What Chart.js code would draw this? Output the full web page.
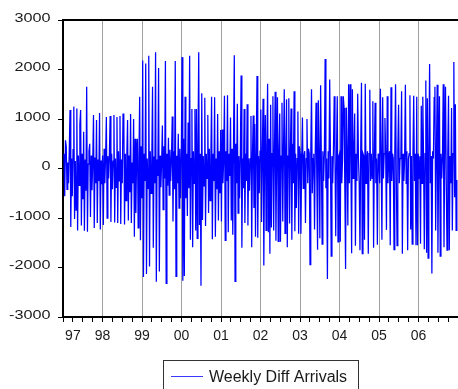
<!DOCTYPE html>
<html>
<head>
<meta charset="utf-8">
<script src="https://cdn.jsdelivr.net/npm/chart.js@4"></script>
<style>
  body { margin: 0; background: #fff; }
  canvas { display: block; }
</style>
</head>
<body>
<canvas id="chartArrivals" width="458" height="389"></canvas>
<script>
// weekly differences of arrivals, one array per year (52 weeks each)
const arrivals1997 = [300, -560, 570, 450, -420, 120, -300, 360, 1180, -1180, 200, -560, 380,
  1250, -1020, 150, -840, 1210, -1250, 260, -340, 900, 1180, -1150, 300, -620,
  740, -1260, 180, -450, 1650, -1280, 90, 350, 500, -980, 260, -440, 120,
  1080, -1200, 220, -300, 980, -1100, 180, -250, 1120, -1230, 160, -320, 260];
const arrivals1998 = [-1140, 400, -300, 250, 1040, -1000, 250, -200, 300, 1060, -1080, 300, -420,
  150, 1080, -1090, 200, -380, 1040, -1100, 350, -250, 1060, -1120, 180, -300,
  1100, 1110, -1130, 300, -650, 240, 980, -1050, 260, -480, 1100, -1100, 120,
  -300, 1000, -1380, 600, -900, 320, 600, -1200, 150, 1450, -1450, 450, -600];
const arrivals1999 = [2180, -2190, 300, -250, 2120, -2130, 200, -400, 2280, -1980, 350, -500, 150,
  1650, -1600, 240, -300, 2350, -2290, 180, -150, 2030, -2080, 260, -380, 120,
  870, -830, 450, -200, 2170, -2320, 300, -350, 620, -540, 380, -250, 200,
  1050, -1070, 350, -420, 2170, -2180, 260, -300, 700, -800, 400, -600, 300];
const arrivals2000 = [2250, -2270, 600, -2170, 1450, -600, 300, -960, 930, -400, 2280, -1440, 200,
  1200, -1590, 350, -300, 1200, -1250, 1200, -1410, 400, 2350, -1140, 300, -2370,
  1520, -1040, 250, -350, 1430, -1160, 300, -200, 1080, -900, 400, -650, 200,
  1450, -1430, 300, -250, 1440, -1380, 200, -420, 1100, -1050, 350, -500, 780];
const arrivals2001 = [-1070, 790, -300, 200, 1470, -1450, 350, -250, 1480, -1290, 300, -150, 1030,
  -1050, 400, -1340, 600, 2290, -2280, 500, -300, 1310, -900, 250, -600, 300,
  1880, -1600, 200, -400, 1200, -1100, 300, -250, 1300, -1150, 200, -450, 200,
  1060, -1590, 300, 1070, -800, 900, -1380, 350, 1870, -1400, 250, -500, 350];
const arrivals2002 = [1190, -1080, 300, 1410, -1960, 200, 1080, -1250, 400, 1710, -1290, 600, -1720,
  1290, -1190, 300, 1460, -1250, 300, 1550, -1460, 200, 1440, -1470, 350, 1110,
  -1480, 250, 1330, -1070, 400, 1600, -1310, 300, 1400, -1590, 250, 1420, -1110,
  300, 1210, -1440, 500, -300, 1560, -1270, 300, -800, 200, 1150, -1320, 450];
const arrivals2003 = [300, -1320, 200, 1030, -400, 250, 350, -1100, 200, 1000, -300, 400, 300,
  -1940, 250, 1600, -500, 200, 300, -1230, 400, 1330, -200, -1640, 1380, 300,
  -1410, 1680, 200, -1530, 350, -250, 300, 2210, -400, 200, -2230, 350, -200,
  1800, 300, -1770, 250, -300, 400, 1460, 200, -1370, 300, 1460, -1480, 250];
const arrivals2004 = [300, -1480, 1460, -300, 200, 1460, 1220, -400, -2030, 1230, 300, -1150, 1700,
  -300, 1700, 200, -1710, 1600, -200, 300, 1110, -1560, 300, -250, 1510, 200,
  -300, -1650, 400, 1730, -1720, 300, 250, -1440, 1710, -300, 200, 350, -1720,
  300, 1590, -250, 300, -200, 1360, -1600, 250, 1330, -300, 200, -1540, 300];
const arrivals2005 = [200, -300, 1610, 300, -1440, 1440, -200, 300, 1020, 250, -1240, 1460, -300,
  200, 350, -1550, 1640, -250, 300, 200, -1640, 300, 1700, -200, -1560, 350,
  1290, -300, 200, 250, 1560, -1720, 300, -250, 200, 1690, -300, 350, -1650,
  200, 300, 1480, -1230, 250, -1530, 300, 1470, -250, 300, -1550, 1450, -1550];
const arrivals2006 = [300, -200, 250, -1520, 1270, -300, 1450, 200, -1630, 300, 1780, -1700, 1420,
  -1810, 300, 2110, -300, 250, -2120, 350, 200, 1430, 1650, -1250, 300, 1690,
  -1700, 250, 1460, -1770, 300, -200, 250, 1700, -1590, 300, 1650, -250, -1650,
  300, 1470, -1650, 250, -300, 1220, -1250, 300, 2150, -580, 1300, -1250, -230];

const yearLabels = ['97', '98', '99', '00', '01', '02', '03', '04', '05', '06'];
const firstYear = 1997;
const yTicks = [3000, 2000, 1000, 0, -1000, -2000, -3000];
const seriesName = 'Weekly Diff Arrivals';

const weekly = [].concat(arrivals1997, arrivals1998, arrivals1999, arrivals2000, arrivals2001,
  arrivals2002, arrivals2003, arrivals2004, arrivals2005, arrivals2006);

// week i ends on day 9 + 7i counted from 1 Jan 1997 -> decimal year
const points = weekly.map((v, i) => ({ x: firstYear + (9 + 7 * i) / 365.25, y: v }));

// quarter ticks for the date axis
const lastYear = firstYear + yearLabels.length;
const quarterTicks = [];
for (let y = firstYear; y <= lastYear; y += 0.25) quarterTicks.push(y);

const FONT = '"Liberation Sans", Arial, Helvetica, sans-serif';
const TEXT = '#1a1a1a';

function xLabel(v) {
  if (v === firstYear + 0.25) return yearLabels[0];
  if (Number.isInteger(v) && v > firstYear && v < lastYear) return yearLabels[v - firstYear];
  return '';
}

// frame top line, stretched y labels and the boxed legend
const decorations = {
  id: 'decorations',
  afterDraw(chart) {
    const ctx = chart.ctx;
    const area = chart.chartArea;
    const ys = chart.scales.y;

    ctx.save();
    ctx.strokeStyle = '#000';
    ctx.lineWidth = 2;
    ctx.beginPath();
    ctx.moveTo(area.left - 1, area.top);
    ctx.lineTo(chart.width, area.top);
    ctx.stroke();

    ctx.fillStyle = TEXT;
    ctx.font = '12px ' + FONT;
    ctx.textAlign = 'right';
    ctx.textBaseline = 'alphabetic';
    yTicks.forEach(v => {
      const py = ys.getPixelForValue(v);
      ctx.save();
      ctx.translate(50.5, py + 1.5);
      ctx.scale(1.35, 1);
      ctx.fillText(String(v), 0, 0);
      ctx.restore();
    });

    // legend
    ctx.strokeStyle = '#333';
    ctx.lineWidth = 1;
    ctx.strokeRect(163.5, 360.5, 195, 40);
    ctx.strokeStyle = '#3a3aff';
    ctx.beginPath();
    ctx.moveTo(171, 376.5);
    ctx.lineTo(203, 376.5);
    ctx.stroke();
    ctx.fillStyle = TEXT;
    ctx.font = '16px ' + FONT;
    ctx.textAlign = 'left';
    ctx.fillText(seriesName, 209, 382);
    ctx.restore();
  }
};

const ctx = document.getElementById('chartArrivals').getContext('2d');
new Chart(ctx, {
  type: 'line',
  data: {
    datasets: [{
      label: seriesName,
      data: points,
      borderColor: '#0000ff',
      borderWidth: 1.25,
      pointRadius: 0,
      tension: 0,
      fill: false
    }]
  },
  options: {
    responsive: false,
    animation: false,
    layout: { padding: { top: 20, right: 0, bottom: 0, left: 0 } },
    plugins: {
      legend: { display: false },
      tooltip: { enabled: false }
    },
    scales: {
      x: {
        type: 'linear',
        min: firstYear,
        max: lastYear,
        afterBuildTicks: s => { s.ticks = quarterTicks.map(v => ({ value: v })); },
        afterFit: s => {
          s.height = 72;
          // no extra room for edge labels: the plot runs to the right edge
          s.paddingLeft = 0;
          s.paddingRight = 0;
        },
        border: { display: true, color: '#000', width: 2 },
        grid: {
          color: c => (Number.isInteger(c.tick.value) && c.tick.value > firstYear && c.tick.value < lastYear)
            ? '#a0a0a0' : 'rgba(0,0,0,0)',
          lineWidth: 1,
          drawTicks: true,
          tickLength: 5,
          tickColor: '#000',
          tickWidth: 1
        },
        ticks: {
          autoSkip: false,
          maxRotation: 0,
          padding: 6,
          color: TEXT,
          font: { family: FONT, size: 14 },
          callback: v => xLabel(v)
        }
      },
      y: {
        min: -3000,
        max: 3000,
        afterBuildTicks: s => { s.ticks = yTicks.map(v => ({ value: v })); },
        afterFit: s => { s.width = 63; },
        border: { display: true, color: '#000', width: 2 },
        grid: { drawOnChartArea: false, tickLength: 5, color: '#000' },
        ticks: { display: false }
      }
    }
  },
  plugins: [decorations]
});
</script>
</body>
</html>
